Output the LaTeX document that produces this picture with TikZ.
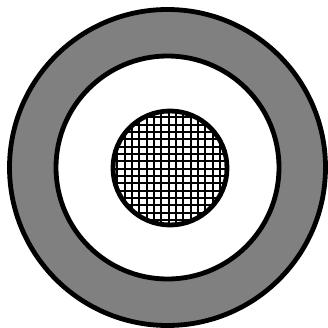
\documentclass[tikz,border=0pt]{standalone}
\usepackage{tikz}
\usetikzlibrary{calc}
\usepackage{xcolor}

\begin{document}
\begin{tikzpicture}[
    x=0.025cm, y=-0.025cm,
    rim/.style={draw=black, line width=0.12cm},
    mesh/.style={draw=black, line width=0.05cm}
]
\useasboundingbox (0,0) rectangle (328,328);

% Centres
\coordinate (shell) at (167.5,167.5);
\coordinate (core) at (170,168);

% Outer gray ring
\draw[rim, fill=black!50] (shell) circle (158);
\draw[rim, fill=white] (shell) circle (111.5);

% Hatched core
\begin{scope}
    \clip (core) circle (57);
    \fill[white] (core) circle (57);
    \draw[mesh, step=0.1833cm] ($(core)+(-62,-62)$) grid ($(core)+(62,62)$);
\end{scope}
\draw[rim] (core) circle (57);

\end{tikzpicture}
\end{document}
